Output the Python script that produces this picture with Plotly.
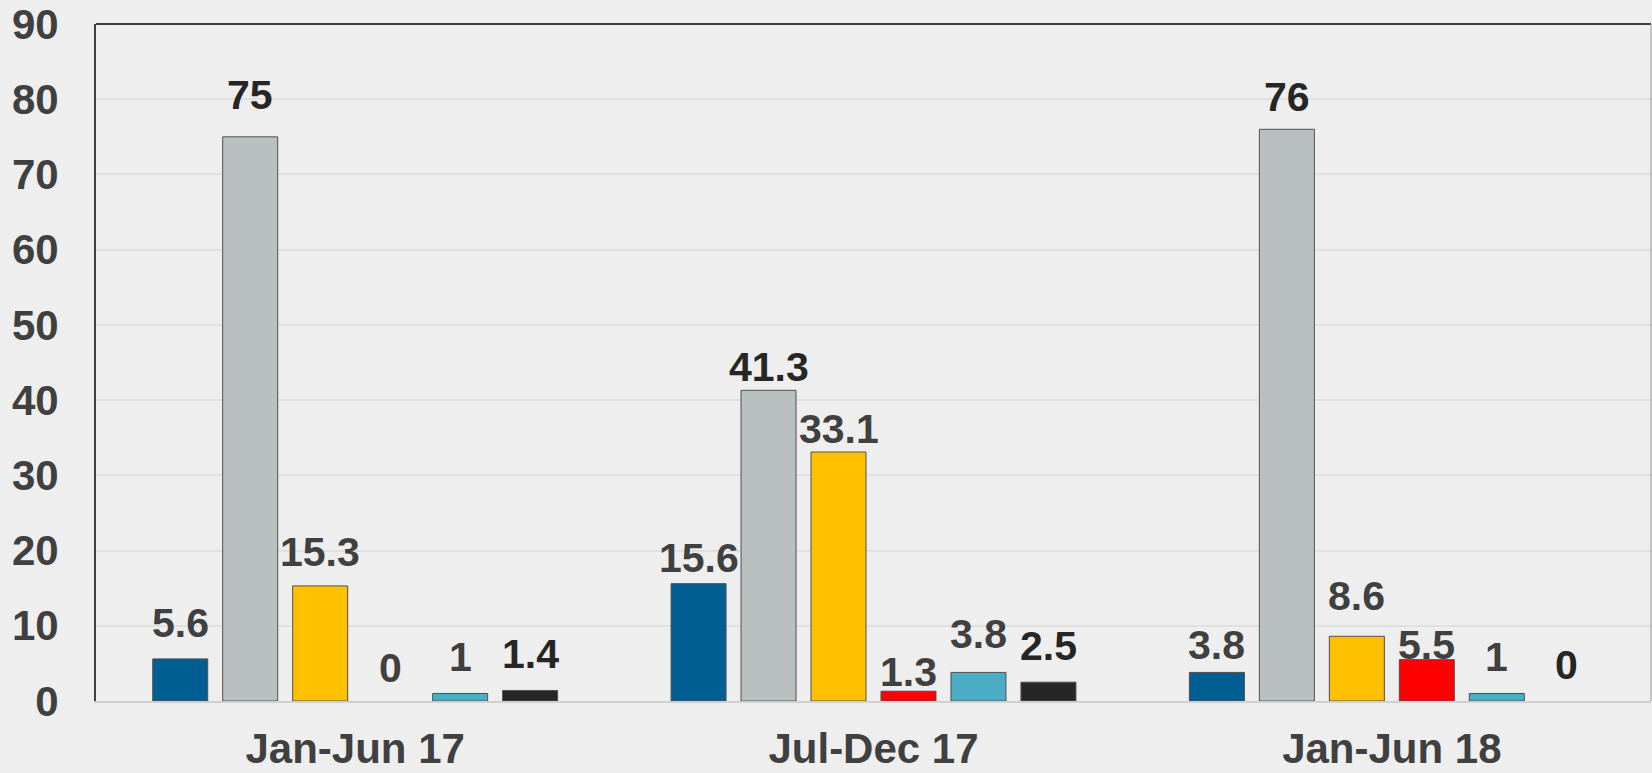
import plotly.graph_objects as go

categories = ["Jan-Jun 17", "Jul-Dec 17", "Jan-Jun 18"]
series_blue = [5.6, 15.6, 3.8]
series_grey = [75, 41.3, 76]
series_yellow = [15.3, 33.1, 8.6]
series_red = [0, 1.3, 5.5]
series_lightblue = [1, 3.8, 1]
series_black = [1.4, 2.5, 0]
y_ticks = [0, 10, 20, 30, 40, 50, 60, 70, 80, 90]

# style: (fill colour, label colour, label pixel nudge per category)
series = [
    ("s1", series_blue, "#005E93", "#404040", [12, 2, 3]),
    ("s2", series_grey, "#B9C1C0", "#262626", [18, -1, 8]),
    ("s3", series_yellow, "#FFC000", "#404040", [10, -1, 16]),
    ("s4", series_red, "#FF0000", "#404040", [9, -5, -9]),
    ("s5", series_lightblue, "#4BACC6", "#404040", [12, 14, 12]),
    ("s6", series_black, "#262626", "#262626", [12, 12, 12]),
]

FONT = "Liberation Sans, Arial, sans-serif"
BARGAP = 0.19
BARGROUPGAP = 0.214

fig = go.Figure()
n = len(series)
annotations = []
for i, (name, vals, color, tcolor, nudges) in enumerate(series):
    fig.add_trace(go.Bar(
        name=name, x=categories, y=vals,
        marker=dict(color=color,
                    line=dict(color="#505050", width=[1 if v else 0 for v in vals])),
        hoverinfo="x+y",
    ))
    off = (i - (n - 1) / 2) * (1 - BARGAP) / n
    for ci, v in enumerate(vals):
        annotations.append(dict(
            x=ci + off, y=v, xref="x", yref="y",
            text=f"{v:g}", showarrow=False,
            yanchor="bottom", xanchor="center", yshift=nudges[ci] - 1,
            font=dict(family=FONT, size=41, color=tcolor, weight="bold"),
        ))

fig.update_layout(
    width=1652, height=773,
    margin=dict(l=96, r=1, t=24, b=72),
    paper_bgcolor="#EEEEEE", plot_bgcolor="#EEEEEE",
    barmode="group", bargap=BARGAP, bargroupgap=BARGROUPGAP,
    showlegend=False,
    annotations=annotations,
    xaxis=dict(
        type="category", automargin=False,
        showline=True, linecolor="#D0D0D0", linewidth=2,
        showgrid=False, ticks="",
        tickfont=dict(family=FONT, size=42, color="#404040", weight="bold"),
        ticklabelstandoff=10,
    ),
    yaxis=dict(
        range=[0, 90], tickvals=y_ticks, automargin=False,
        showline=True, linecolor="#404040", linewidth=2,
        showgrid=True, gridcolor="#E0E0E0", gridwidth=2,
        zeroline=False, ticks="",
        tickfont=dict(family=FONT, size=42, color="#404040", weight="bold"),
        ticklabelstandoff=27,
    ),
    shapes=[
        dict(type="line", xref="paper", yref="paper", x0=0, x1=1, y0=1, y1=1,
             line=dict(color="#404040", width=2)),
        dict(type="line", xref="paper", yref="paper", x0=1, x1=1, y0=0, y1=1,
             line=dict(color="#9A9A9A", width=1)),
    ],
)

fig.write_html("out.html", config={"displayModeBar": False},
               post_script="document.body.style.margin='0';document.body.style.overflow='hidden';")
